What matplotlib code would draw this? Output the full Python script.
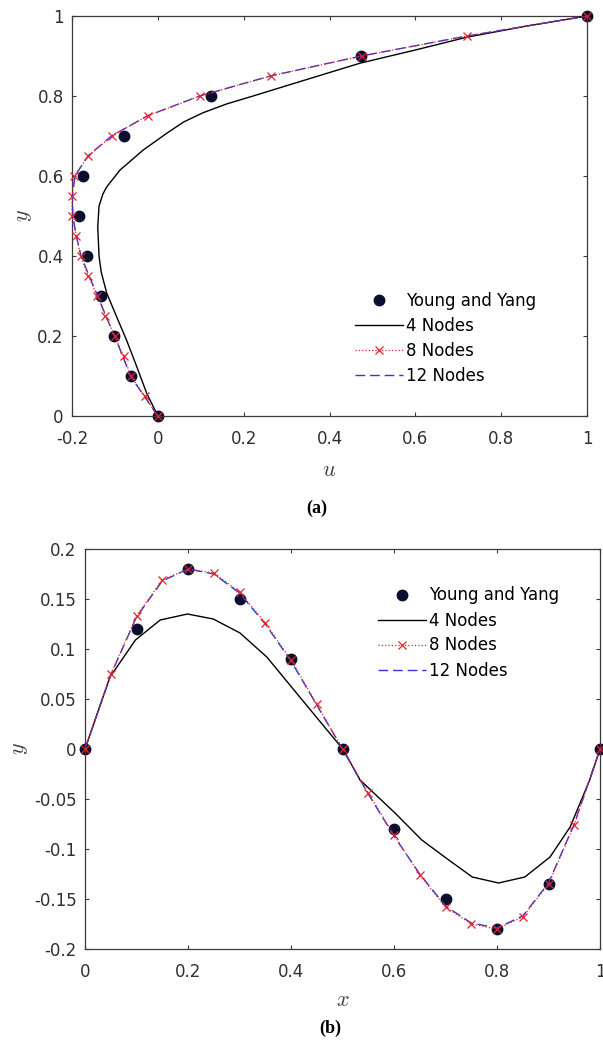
import matplotlib
matplotlib.use("Agg")
import matplotlib.pyplot as plt
from matplotlib.ticker import FuncFormatter

plt.rcParams['font.family'] = ['DejaVu Sans']
plt.rcParams['mathtext.fontset'] = 'cm'

# ---- panel (a): u over y ----
a_ref_u = [0, -0.063, -0.101, -0.133, -0.164, -0.183, -0.174, -0.078, 0.123, 0.473, 1]
a_ref_y = [0, 0.1, 0.2, 0.3, 0.4, 0.5, 0.6, 0.7, 0.8, 0.9, 1]

a_n4_u = [0, -0.026, -0.049, -0.073, -0.096, -0.119, -0.132, -0.137, -0.140, -0.137, -0.128,
          -0.119, -0.088, -0.034, 0.021, 0.06, 0.105, 0.16, 0.222, 0.331, 0.471, 0.60, 0.72, 0.86, 1]
a_n4_y = [0, 0.057, 0.123, 0.19, 0.248, 0.307, 0.36, 0.4, 0.473, 0.525, 0.555,
          0.573, 0.615, 0.665, 0.707, 0.735, 0.758, 0.78, 0.8, 0.836, 0.882, 0.915, 0.947, 0.975, 1]

a_n8_y = [0, 0.05, 0.1, 0.15, 0.2, 0.25, 0.3, 0.35, 0.4, 0.45, 0.5,
          0.55, 0.6, 0.65, 0.7, 0.75, 0.8, 0.85, 0.9, 0.95, 1]
a_n8_u = [0, -0.031, -0.063, -0.08, -0.1, -0.122, -0.141, -0.162, -0.18, -0.19, -0.2,
          -0.2, -0.195, -0.162, -0.107, -0.024, 0.098, 0.263, 0.475, 0.72, 1]
a_n12_u = [0, -0.032, -0.064, -0.082, -0.101, -0.121, -0.140, -0.160, -0.179, -0.190, -0.198,
           -0.199, -0.193, -0.163, -0.108, -0.025, 0.097, 0.262, 0.474, 0.72, 1]

# ---- panel (b): x over y ----
b_ref_x = [0, 0.1, 0.2, 0.3, 0.4, 0.5, 0.6, 0.7, 0.8, 0.9, 1]
b_ref_y = [0, 0.12, 0.18, 0.15, 0.09, 0, -0.08, -0.15, -0.18, -0.135, 0]

b_n4_x = [0, 0.0485, 0.098, 0.146, 0.199, 0.249, 0.301, 0.353, 0.417, 0.502,
          0.534, 0.602, 0.654, 0.701, 0.752, 0.803, 0.854, 0.903, 0.942, 0.98, 1]
b_n4_y = [0, 0.072, 0.109, 0.129, 0.135, 0.13, 0.116, 0.092, 0.052, -0.001,
          -0.031, -0.064, -0.091, -0.109, -0.128, -0.134, -0.128, -0.108, -0.078, -0.031, 0]

b_n8_x = [0, 0.05, 0.1, 0.15, 0.2, 0.25, 0.3, 0.35, 0.4, 0.45, 0.5,
          0.55, 0.6, 0.65, 0.7, 0.75, 0.8, 0.85, 0.9, 0.95, 1]
b_n8_y = [0, 0.075, 0.133, 0.169, 0.18, 0.176, 0.157, 0.126, 0.089, 0.045, 0,
          -0.044, -0.086, -0.126, -0.158, -0.175, -0.18, -0.168, -0.135, -0.076, 0]
b_n12_y = [0, 0.074, 0.132, 0.168, 0.18, 0.175, 0.156, 0.125, 0.088, 0.044, 0,
           -0.045, -0.087, -0.125, -0.157, -0.174, -0.179, -0.167, -0.134, -0.075, 0]

labels = ["Young and Yang", "4 Nodes", "8 Nodes", "12 Nodes"]

dot_col = "#0b0f2e"
blue = "#3535d0"
red = "#e8202a"
axcol = "#3a3a3a"

fmt = FuncFormatter(lambda v, p: "%g" % round(v, 4))

fig = plt.figure(figsize=(6.03, 10.44), dpi=100)


def zeichnen(ax, xr, yr, x4, y4, x8, y8, x12, y12):
    ax.plot(xr, yr, 'o', color=dot_col, ms=7.5, zorder=2, label=labels[0], clip_on=False)
    ax.plot(x4, y4, '-', color='black', lw=1.0, zorder=3, label=labels[1])
    ax.plot(x8, y8, ':', color=red, lw=0.9, marker='x', ms=5.5, mew=0.9,
            zorder=4, label=labels[2], clip_on=False)
    ax.plot(x12, y12, '--', color=blue, lw=1.0, dashes=(7, 3.5), zorder=3.5,
            label=labels[3])
    ax.tick_params(direction='in', length=3, width=0.8, top=True, right=True,
                   labelsize=12, labelcolor='#303030', color=axcol)
    ax.tick_params(axis='x', pad=10)
    ax.tick_params(axis='y', pad=6)
    ax.xaxis.set_major_formatter(fmt)
    ax.yaxis.set_major_formatter(fmt)
    for s in ax.spines.values():
        s.set_color(axcol)
        s.set_linewidth(0.9)


def legende(ax, x, y):
    ax.legend(loc='center left', bbox_to_anchor=(x / 603, 1 - y / 1044),
              bbox_transform=fig.transFigure, frameon=False, fontsize=12,
              handlelength=2.9, handletextpad=0.15, labelspacing=0.42,
              borderpad=0, borderaxespad=0)


# (a)
ax1 = fig.add_axes([72 / 603, 1 - 416 / 1044, 515 / 603, 400 / 1044])
zeichnen(ax1, a_ref_u, a_ref_y, a_n4_u, a_n4_y, a_n8_u, a_n8_y, a_n12_u, a_n8_y)
ax1.set_xlim(-0.2, 1)
ax1.set_ylim(0, 1)
ax1.set_xticks([-0.2, 0, 0.2, 0.4, 0.6, 0.8, 1])
ax1.set_yticks([0, 0.2, 0.4, 0.6, 0.8, 1])
ax1.set_xlabel("$u$", fontsize=16, color='#404040')
ax1.set_ylabel("$y$", fontsize=16, color='#404040')
ax1.xaxis.set_label_coords(0.5, -0.135)
ax1.xaxis.label.set_va('center')
ax1.yaxis.set_label_coords(-0.093, 0.5)
ax1.yaxis.label.set_va('center')
legende(ax1, 355, 338)

# (b)
ax2 = fig.add_axes([85 / 603, 1 - 949 / 1044, 515 / 603, 400 / 1044])
zeichnen(ax2, b_ref_x, b_ref_y, b_n4_x, b_n4_y, b_n8_x, b_n8_y, b_n8_x, b_n12_y)
ax2.set_xlim(0, 1)
ax2.set_ylim(-0.2, 0.2)
ax2.set_xticks([0, 0.2, 0.4, 0.6, 0.8, 1])
ax2.set_yticks([-0.2, -0.15, -0.1, -0.05, 0, 0.05, 0.1, 0.15, 0.2])
ax2.set_xlabel("$x$", fontsize=16, color='#404040')
ax2.set_ylabel("$y$", fontsize=16, color='#404040')
ax2.xaxis.set_label_coords(0.5, -0.1275)
ax2.xaxis.label.set_va('center')
ax2.yaxis.set_label_coords(-0.126, 0.5)
ax2.yaxis.label.set_va('center')
legende(ax2, 378, 633)

# Teilbild-Bezeichnungen
fig.text(317 / 603, 1 - 508 / 1044, "(a)", ha='center', va='center',
         family='Liberation Serif', fontweight='bold', fontsize=13)
fig.text(330 / 603, 1 - 1028 / 1044, "(b)", ha='center', va='center',
         family='Liberation Serif', fontweight='bold', fontsize=13)

fig.savefig("out.png", dpi=100)
